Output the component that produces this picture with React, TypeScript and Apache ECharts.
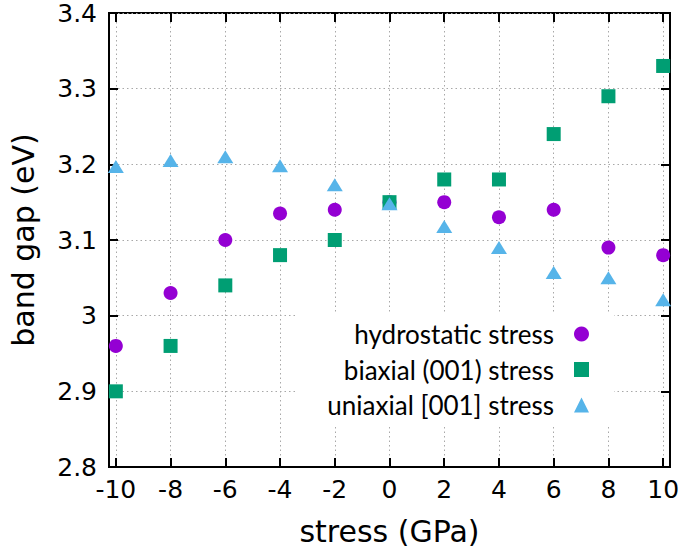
import React, { useEffect, useRef } from "react";
import * as echarts from "echarts";

const stress = [-10, -8, -6, -4, -2, 0, 2, 4, 6, 8, 10];
const hydrostatic = [2.96, 3.03, 3.10, 3.135, 3.14, 3.15, 3.15, 3.13, 3.14, 3.09, 3.08];
const biaxial = [2.90, 2.96, 3.04, 3.08, 3.10, 3.15, 3.18, 3.18, 3.24, 3.29, 3.33];
const uniaxial = [3.197, 3.205, 3.21, 3.198, 3.173, 3.148, 3.118, 3.09, 3.057, 3.05, 3.021];
const xTicks = [-10, -8, -6, -4, -2, 0, 2, 4, 6, 8, 10];
const seriesNames = ["hydrostatic stress", "biaxial (001) stress", "uniaxial [001] stress"];

export default function App() {
  const ref = useRef<HTMLDivElement>(null);
  useEffect(() => {
    if (!ref.current) return;
    const chart = echarts.init(ref.current, null, { renderer: "svg" });
    const pair = (ys: number[]) => stress.map((x, i) => [x, ys[i]]);
    const grid = { type: [1.5, 3] as any, color: "#a8a8a8", width: 1 };
    const tickFont = { fontFamily: "DejaVu Sans", fontSize: 25, color: "#000" };
    const tickStyle = { color: "#000", width: 2 };
    chart.setOption({
      animation: false,
      backgroundColor: "#fff",
      grid: { left: 102, right: 15, top: 13, bottom: 85, show: true, borderColor: "#000", borderWidth: 2 },
      legend: {
        orient: "vertical",
        align: "right",
        right: 71,
        top: 313,
        itemGap: 9.5,
        itemWidth: 15,
        itemHeight: 15,
        backgroundColor: "#fff",
        padding: [8, 25, 8, 30],
        textStyle: { fontFamily: "Lato", fontSize: 26, lineHeight: 26, color: "#000", padding: [0, 15, 0, 0] },
        data: [
          { name: seriesNames[0], icon: "circle" },
          { name: seriesNames[1], icon: "rect" },
          { name: seriesNames[2], icon: "triangle" },
        ],
      },
      xAxis: [
        {
          type: "value",
          min: -10.25,
          max: 10.25,
          name: "stress (GPa)",
          nameLocation: "middle",
          nameGap: 49,
          nameTextStyle: { fontFamily: "DejaVu Sans", fontSize: 30, color: "#000" },
          axisLine: { show: true, onZero: false, lineStyle: { color: "#000", width: 2 } },
          axisTick: { show: true, inside: true, length: 9, customValues: xTicks, lineStyle: tickStyle },
          axisLabel: { customValues: xTicks, margin: 10, ...tickFont },
          splitLine: { show: true, lineStyle: grid },
        },
        {
          type: "value",
          position: "top",
          min: -10.25,
          max: 10.25,
          axisLine: { show: false, onZero: false },
          axisTick: { show: true, inside: true, length: 9, customValues: xTicks, lineStyle: tickStyle },
          axisLabel: { show: false, customValues: xTicks },
          splitLine: { show: false },
        },
      ],
      yAxis: [
        {
          type: "value",
          min: 2.8,
          max: 3.4,
          interval: 0.1,
          name: "band gap (eV)",
          nameLocation: "middle",
          nameGap: 71,
          nameTextStyle: { fontFamily: "DejaVu Sans", fontSize: 30, color: "#000" },
          axisLine: { show: true, onZero: false, lineStyle: { color: "#000", width: 2 } },
          axisTick: { show: true, inside: true, length: 9, lineStyle: tickStyle },
          axisLabel: { margin: 12, ...tickFont },
          splitLine: { show: true, lineStyle: grid },
        },
        {
          type: "value",
          position: "right",
          min: 2.8,
          max: 3.4,
          interval: 0.1,
          axisLine: { show: false, onZero: false },
          axisTick: { show: true, inside: true, length: 9, lineStyle: tickStyle },
          axisLabel: { show: false },
          splitLine: { show: false },
        },
      ],
      series: [
        { name: seriesNames[0], type: "scatter", symbol: "circle", symbolSize: 14, itemStyle: { color: "#9400D3", opacity: 1 }, data: pair(hydrostatic), z: 2 },
        { name: seriesNames[1], type: "scatter", symbol: "rect", symbolSize: 14, itemStyle: { color: "#009E73", opacity: 1 }, data: pair(biaxial), z: 3 },
        { name: seriesNames[2], type: "scatter", symbol: "triangle", symbolSize: [16, 13], itemStyle: { color: "#56B4E9", opacity: 1 }, data: pair(uniaxial), z: 4 },
      ],
    });
    return () => chart.dispose();
  }, []);
  return <div ref={ref} style={{ position: "fixed", left: 0, top: 0, width: 685, height: 552 }} />;
}
